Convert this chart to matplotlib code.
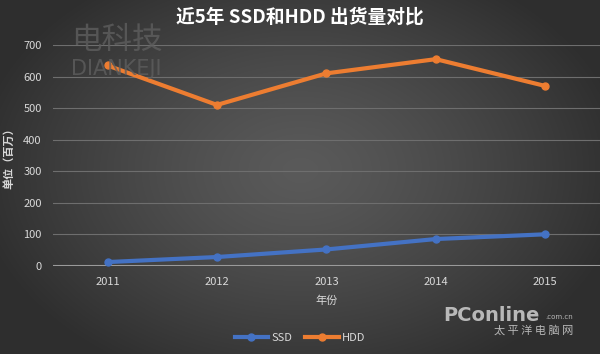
import matplotlib
matplotlib.use("Agg")
import matplotlib.pyplot as plt
import numpy as np

plt.rcParams['font.family'] = ['Noto Sans CJK SC', 'DejaVu Sans']

years = ["2011", "2012", "2013", "2014", "2015"]
ssd = [12, 28, 52, 85, 100]
hdd = [635, 510, 610, 655, 570]
yticks = [0, 100, 200, 300, 400, 500, 600, 700]

fig = plt.figure(figsize=(6.0, 3.54), dpi=100)

# background radial gradient
bg = fig.add_axes([0, 0, 1, 1], zorder=-10)
yy, xx = np.mgrid[0:354, 0:600]
r = np.sqrt(((xx - 300) / 330.0) ** 2 + ((yy - 170) / 230.0) ** 2)
r = np.clip(r, 0, 1)
c0 = np.array([0x5a, 0x5a, 0x5a]) / 255.0
c1 = np.array([0x2e, 0x2e, 0x2e]) / 255.0
img = c0[None, None, :] * (1 - r[..., None] ** 1.3) + c1[None, None, :] * (r[..., None] ** 1.3)
bg.imshow(img, aspect='auto', extent=[0, 1, 0, 1])
bg.axis('off')

# watermarks
fig.text(0.118, 0.885, "电科技", fontsize=22, color='#5e5e5e', alpha=0.8, va='center', ha='left')
fig.text(0.118, 0.805, "DIANKEJI", fontsize=15, color='#5e5e5e', alpha=0.8, va='center', ha='left',
         family='DejaVu Sans')
fig.text(0.90, 0.11, "PConline", fontsize=14, color='#d0d0d0', va='center', ha='right',
         family='DejaVu Sans', weight='bold', alpha=0.85)
fig.text(0.955, 0.105, ".com.cn", fontsize=5, color='#d0d0d0', va='center', ha='right',
         family='DejaVu Sans', alpha=0.85)
fig.text(0.955, 0.066, "太 平 洋 电 脑 网", fontsize=8, color='#d0d0d0', va='center', ha='right', alpha=0.85)

ax = fig.add_axes([0.088, 0.249, 0.912, 0.624])
ax.set_facecolor('none')
x = np.arange(len(years))
ax.plot(x, ssd, color='#4472C4', lw=3, marker='o', ms=5, label='SSD', zorder=3)
ax.plot(x, hdd, color='#ED7D31', lw=3, marker='o', ms=5, label='HDD', zorder=3)
ax.set_xlim(-0.5, 4.5)
ax.set_ylim(0, 700)
ax.set_yticks(yticks)
ax.set_xticks(x)
ax.set_xticklabels(years)
for s in ax.spines.values():
    s.set_visible(False)
ax.grid(axis='y', color='#6e6e6e', lw=0.8)
ax.axhline(0, color='#9a9a9a', lw=1.5, zorder=2)
ax.set_axisbelow(True)
ax.tick_params(length=0, colors='#d9d9d9', labelsize=8)
ax.tick_params(axis='y', pad=8)
ax.tick_params(axis='x', pad=8)
ax.set_xlabel("年份", color='#d9d9d9', fontsize=8, labelpad=6)
ax.set_ylabel("单位（百万）", color='#d9d9d9', fontsize=8, weight='bold', labelpad=6)

fig.text(0.5, 0.952, "近5年 SSD和HDD 出货量对比", color='white', fontsize=13.5, weight='bold',
         ha='center', va='center')

leg = fig.legend(loc='center', bbox_to_anchor=(0.5, 0.045), ncol=2, frameon=False,
                 fontsize=8, handlelength=3.0, columnspacing=1.2, handletextpad=0.3)
for t in leg.get_texts():
    t.set_color('#d9d9d9')

fig.savefig("out.png", dpi=100)
